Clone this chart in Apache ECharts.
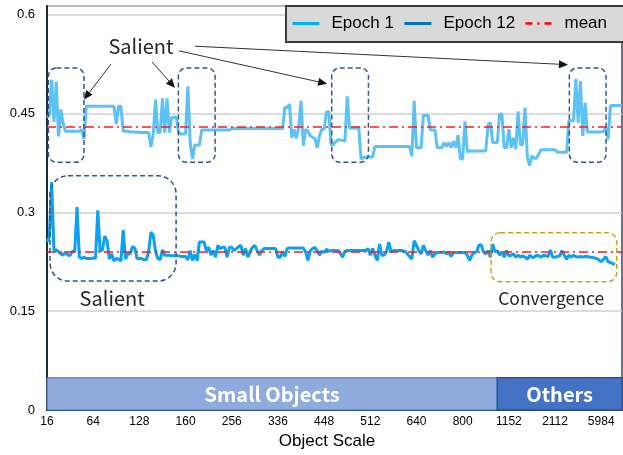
<!DOCTYPE html>
<html>
<head>
<meta charset="utf-8">
<script src="https://cdn.jsdelivr.net/npm/echarts@6/dist/echarts.min.js"></script>
<style>html,body{margin:0;padding:0;background:#fff}#c{width:623px;height:455px}</style>
</head>
<body>
<div id="c"></div>
<script>
const N = 250;
const tickLabels = ['16','64','128','160','256','336','448','512','640','800','1152','2112','5984'];
const seriesNames = ['Epoch 1', 'Epoch 12', 'mean'];
const epoch1 = [
0.444,0.447,0.501,0.437,0.498,0.415,0.456,0.434,0.423,0.423,
0.423,0.423,0.423,0.423,0.423,0.426,0.411,0.461,0.461,0.461,
0.461,0.461,0.461,0.461,0.461,0.461,0.461,0.461,0.461,0.461,
0.434,0.461,0.461,0.423,0.423,0.423,0.422,0.422,0.422,0.422,
0.421,0.421,0.421,0.421,0.421,0.399,0.419,0.471,0.421,0.421,
0.473,0.421,0.473,0.421,0.444,0.444,0.444,0.421,0.419,0.419,
0.419,0.491,0.406,0.381,0.402,0.402,0.402,0.425,0.425,0.425,
0.425,0.425,0.425,0.425,0.425,0.425,0.425,0.425,0.425,0.425,
0.427,0.427,0.427,0.427,0.427,0.427,0.427,0.427,0.427,0.427,
0.427,0.427,0.427,0.427,0.427,0.427,0.427,0.427,0.427,0.427,
0.427,0.427,0.427,0.459,0.459,0.464,0.413,0.426,0.412,0.429,
0.469,0.401,0.426,0.423,0.416,0.414,0.412,0.398,0.416,0.426,
0.426,0.452,0.453,0.403,0.403,0.407,0.410,0.410,0.409,0.408,
0.476,0.428,0.428,0.428,0.428,0.428,0.381,0.383,0.384,0.384,
0.384,0.384,0.400,0.400,0.400,0.400,0.400,0.400,0.400,0.400,
0.400,0.400,0.400,0.400,0.400,0.400,0.400,0.400,0.385,0.469,
0.398,0.398,0.398,0.447,0.447,0.447,0.425,0.425,0.425,0.398,
0.398,0.398,0.406,0.400,0.406,0.398,0.408,0.398,0.417,0.381,
0.381,0.438,0.392,0.393,0.393,0.393,0.393,0.393,0.393,0.393,
0.393,0.433,0.436,0.406,0.406,0.406,0.449,0.449,0.398,0.398,
0.426,0.398,0.413,0.396,0.453,0.403,0.403,0.459,0.384,0.371,
0.386,0.382,0.382,0.389,0.395,0.395,0.395,0.395,0.395,0.395,
0.395,0.391,0.391,0.391,0.391,0.391,0.439,0.439,0.439,0.502,
0.436,0.499,0.416,0.466,0.422,0.422,0.422,0.422,0.422,0.422,
0.422,0.423,0.428,0.411,0.462,0.462,0.462,0.462,0.462,0.462
];
const epoch12 = [
0.255,0.262,0.346,0.243,0.243,0.240,0.237,0.235,0.240,0.235,
0.235,0.241,0.240,0.308,0.232,0.230,0.232,0.230,0.230,0.230,
0.231,0.230,0.303,0.241,0.243,0.264,0.257,0.229,0.237,0.226,
0.230,0.229,0.226,0.273,0.229,0.237,0.237,0.248,0.246,0.230,
0.230,0.230,0.228,0.228,0.240,0.270,0.265,0.241,0.230,0.228,
0.243,0.235,0.235,0.235,0.234,0.234,0.234,0.234,0.233,0.233,
0.233,0.228,0.242,0.227,0.236,0.227,0.255,0.255,0.255,0.242,
0.247,0.235,0.242,0.232,0.250,0.245,0.247,0.247,0.232,0.247,
0.247,0.242,0.245,0.248,0.250,0.235,0.245,0.232,0.241,0.247,
0.250,0.242,0.235,0.242,0.245,0.245,0.245,0.245,0.245,0.245,
0.232,0.232,0.241,0.233,0.245,0.246,0.246,0.246,0.246,0.246,
0.246,0.246,0.240,0.227,0.242,0.245,0.247,0.242,0.235,0.241,
0.239,0.244,0.241,0.242,0.242,0.242,0.242,0.238,0.232,0.241,
0.242,0.242,0.242,0.242,0.242,0.242,0.242,0.242,0.242,0.245,
0.235,0.245,0.235,0.227,0.252,0.235,0.235,0.240,0.255,0.240,
0.242,0.242,0.242,0.242,0.242,0.241,0.237,0.233,0.229,0.257,
0.250,0.242,0.237,0.250,0.242,0.235,0.242,0.232,0.237,0.239,
0.239,0.239,0.240,0.237,0.240,0.233,0.239,0.239,0.239,0.239,
0.239,0.239,0.235,0.227,0.235,0.239,0.240,0.250,0.251,0.240,
0.237,0.242,0.232,0.252,0.240,0.242,0.235,0.240,0.232,0.242,
0.234,0.235,0.237,0.232,0.235,0.232,0.234,0.232,0.229,0.235,
0.232,0.232,0.235,0.234,0.232,0.235,0.234,0.233,0.243,0.232,
0.232,0.233,0.234,0.242,0.235,0.229,0.235,0.232,0.235,0.233,
0.232,0.233,0.232,0.233,0.233,0.232,0.232,0.231,0.230,0.228,
0.225,0.229,0.233,0.225,0.224,0.222,0.221
];
const meanValues = [0.429, 0.244];
const regionNames = ['Small Objects', 'Others'];
const regionBounds = [[0, 195], [195, 249]];
const regionTop = 0.049;

const categories = Array.from({length: N}, (_, i) => String(i));
const chart = echarts.init(document.getElementById('c'));
const FONT = 'Liberation Sans, Arial, sans-serif';
const CJK = 'Noto Sans CJK SC, sans-serif';
const DASHDOT = [9, 4, 2, 4];

chart.setOption({
  animation: false,
  grid: {left: 47, right: 1, top: 6, bottom: 42.5, show: true, borderColor: '#3A4656', borderWidth: 1.5, backgroundColor: 'transparent'},
  legend: {
    left: 286, top: 6, width: 360, orient: 'horizontal',
    data: [
      {name: seriesNames[0], lineStyle: {color: '#00B0F0', width: 3}},
      {name: seriesNames[1], lineStyle: {color: '#0070C0', width: 3}},
      {name: seriesNames[2], lineStyle: {color: '#FF0000', width: 2.5, type: [7, 5, 2, 5]}}
    ],
    itemStyle: {opacity: 0},
    itemWidth: 27, itemHeight: 12, itemGap: 9,
    padding: [9, 20, 10, 5],
    backgroundColor: '#D9D9D9', borderColor: '#3F3F3F', borderWidth: 2,
    textStyle: {fontFamily: FONT, fontSize: 17, color: '#000', padding: [0, 0, 0, 7]}
  },
  xAxis: {
    type: 'category', data: categories, boundaryGap: false,
    name: 'Object Scale', nameLocation: 'middle', nameGap: 22,
    nameTextStyle: {fontFamily: FONT, fontSize: 17, color: '#000', padding: [0, 15, 0, 0]},
    axisLine: {lineStyle: {color: '#1E2A36', width: 2}},
    axisTick: {show: false},
    axisLabel: {interval: 19, margin: 6, fontFamily: FONT, fontSize: 12, color: '#000',
      formatter: (v, i) => tickLabels[Math.round(i / 20)] || ''},
    splitLine: {show: false}
  },
  yAxis: {
    type: 'value', min: 0, max: 0.613, interval: 0.15,
    axisLine: {show: true, lineStyle: {color: '#1E2A36', width: 2}},
    axisTick: {show: false},
    axisLabel: {showMaxLabel: false, margin: 12, fontFamily: FONT, fontSize: 13, color: '#000'},
    splitLine: {lineStyle: {color: '#D0D0D0', width: 1.5}}
  },
  series: [
    {name: seriesNames[0], type: 'line', data: epoch1, symbol: 'none', showSymbol: false,
     lineStyle: {color: '#5CC2F6', width: 3}, itemStyle: {color: '#5CC2F6'}, z: 3},
    {name: seriesNames[1], type: 'line', data: epoch12, symbol: 'none', showSymbol: false,
     lineStyle: {color: '#0AA2F0', width: 3}, itemStyle: {color: '#0AA2F0'}, z: 3},
    {name: seriesNames[2], type: 'line', data: [], symbol: 'none', showSymbol: false,
     lineStyle: {color: '#FF0000', width: 2, type: DASHDOT}, itemStyle: {color: '#FF0000'},
     markLine: {silent: true, symbol: 'none', label: {show: false},
       lineStyle: {color: '#FF1A1A', width: 1.5, type: DASHDOT},
       data: meanValues.map(v => ({yAxis: v}))},
     markArea: {silent: true,
       label: {show: true, position: 'inside', color: '#fff', fontFamily: CJK, fontWeight: 'bold', fontSize: 20},
       data: regionNames.map((n, k) => [
         {name: n, xAxis: regionBounds[k][0], yAxis: 0,
          itemStyle: k === 0 ? {color: '#8FAADC', borderColor: '#4472C4', borderWidth: 1}
                             : {color: '#4472C4', borderColor: '#2F528F', borderWidth: 1.5}},
         {xAxis: regionBounds[k][1], yAxis: regionTop}
       ])}
    }
  ]
});

// annotations anchored in data coordinates (index, value)
const boxes = [
  {i0: 0.6, i1: 16.0, v0: 0.519, v1: 0.376, r: 8, c: '#3A5488'},
  {i0: 56.9, i1: 72.8, v0: 0.519, v1: 0.376, r: 8, c: '#3A5488'},
  {i0: 123.3, i1: 139.2, v0: 0.519, v1: 0.376, r: 8, c: '#3A5488'},
  {i0: 226.2, i1: 242.1, v0: 0.519, v1: 0.376, r: 8, c: '#3A5488'},
  {i0: 1.3, i1: 55.9, v0: 0.3555, v1: 0.1957, r: 18, c: '#3A5488'},
  {i0: 192.3, i1: 246.7, v0: 0.269, v1: 0.1948, r: 9, c: '#C9A02A'}
];
const texts = [
  {t: 'Salient', i: 40.7, v: 0.551, s: 20},
  {t: 'Salient', i: 28.2, v: 0.170, s: 20},
  {t: 'Convergence', i: 218.3, v: 0.170, s: 17.5}
];
const arrows = [
  [27.7, 0.525, 16.0, 0.471],
  [45.5, 0.528, 55.4, 0.489],
  [57.2, 0.545, 121.3, 0.495],
  [64.1, 0.552, 225.6, 0.524]
];
const xa = chart.convertToPixel({xAxisIndex: 0}, 0);
const xb = chart.convertToPixel({xAxisIndex: 0}, N - 1);
const PX = i => xa + (xb - xa) * i / (N - 1);
const PY = v => chart.convertToPixel({yAxisIndex: 0}, v);
const g = [];
boxes.forEach(b => {
  const x0 = PX(b.i0), x1 = PX(b.i1), y0 = PY(b.v0), y1 = PY(b.v1);
  g.push({type: 'rect', z: 50, silent: true,
    shape: {x: x0, y: y0, width: x1 - x0, height: y1 - y0, r: b.r},
    style: {fill: 'none', stroke: b.c, lineWidth: 1.5, lineDash: [5, 3]}});
});
texts.forEach(t => {
  g.push({type: 'text', z: 50, silent: true, x: PX(t.i), y: PY(t.v),
    style: {text: t.t, fontFamily: CJK, fontSize: t.s, fill: '#262626', align: 'center', verticalAlign: 'middle'}});
});
arrows.forEach(a => {
  const x0 = PX(a[0]), y0 = PY(a[1]), x1 = PX(a[2]), y1 = PY(a[3]);
  const dx = x1 - x0, dy = y1 - y0, L = Math.hypot(dx, dy), ux = dx / L, uy = dy / L;
  const hl = 9, hw = 4;
  const bx = x1 - ux * hl, by = y1 - uy * hl;
  g.push({type: 'line', z: 50, silent: true, shape: {x1: x0, y1: y0, x2: bx, y2: by},
    style: {stroke: '#333', lineWidth: 1}});
  g.push({type: 'polygon', z: 50, silent: true,
    shape: {points: [[x1, y1], [bx - uy * hw, by + ux * hw], [bx + uy * hw, by - ux * hw]]},
    style: {fill: '#111'}});
});
chart.setOption({graphic: g});
</script>
</body>
</html>
